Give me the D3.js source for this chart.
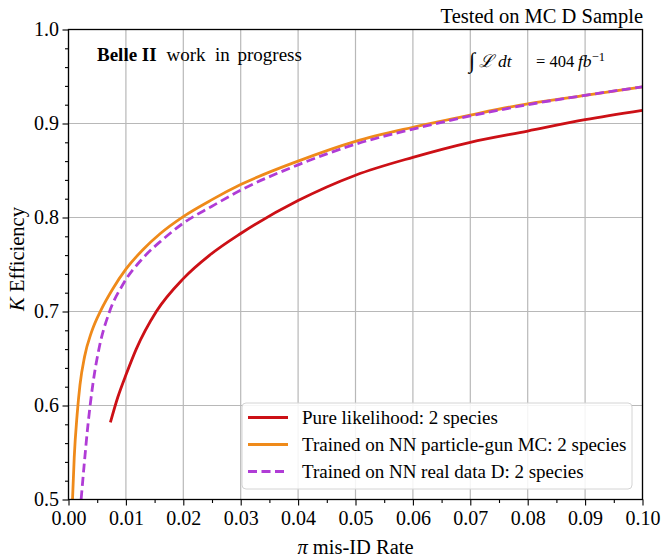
<!DOCTYPE html>
<html>
<head>
<meta charset="utf-8">
<script src="https://cdn.jsdelivr.net/npm/d3@7"></script>
<style>
    body { margin: 0; background: #fff; }
    svg text { font-family: "Liberation Serif", "Times New Roman", "DejaVu Serif", serif; fill: #000; }
</style>
</head>
<body>
<div id="chart"></div>
<script>
// DATA
// pi mis-ID rate (x) and K efficiency (y) for each classifier
var likelihoodRate = [0.0073, 0.0086, 0.0101, 0.0118, 0.0153, 0.0200, 0.0246, 0.0300, 0.0400, 0.0500, 0.0600, 0.0700, 0.0800, 0.0900, 0.1000];
var likelihoodEff  = [0.582, 0.609, 0.634, 0.660, 0.700, 0.735, 0.760, 0.783, 0.818, 0.845, 0.864, 0.880, 0.892, 0.904, 0.914];

var gunRate = [0.0007, 0.0010, 0.0015, 0.0020, 0.0028, 0.0040, 0.0057, 0.0077, 0.0100, 0.0130, 0.0160, 0.0200, 0.0250, 0.0300, 0.0400, 0.0500, 0.0600, 0.0700, 0.0800, 0.0900, 0.1000];
var gunEff  = [0.500, 0.545, 0.590, 0.622, 0.652, 0.678, 0.702, 0.724, 0.745, 0.766, 0.783, 0.801, 0.819, 0.835, 0.860, 0.881, 0.896, 0.909, 0.921, 0.930, 0.939];

var realRate = [0.0022, 0.0027, 0.0034, 0.0043, 0.0054, 0.0071, 0.0095, 0.0130, 0.0165, 0.0200, 0.0250, 0.0300, 0.0400, 0.0500, 0.0600, 0.0700, 0.0800, 0.0900, 0.1000];
var realEff  = [0.500, 0.535, 0.580, 0.625, 0.663, 0.699, 0.729, 0.757, 0.777, 0.794, 0.812, 0.829, 0.856, 0.878, 0.894, 0.908, 0.920, 0.930, 0.939];

var seriesNames = ["Pure likelihood: 2 species", "Trained on NN particle-gun MC: 2 species", "Trained on NN real data D: 2 species"];
var seriesColors = ["#cc1016", "#ef8a1a", "#b03cd6"];

// ticks
var xTicks = [0.00, 0.01, 0.02, 0.03, 0.04, 0.05, 0.06, 0.07, 0.08, 0.09, 0.10];
var xMinorTicks = [0.005, 0.015, 0.025, 0.035, 0.045, 0.055, 0.065, 0.075, 0.085, 0.095];
var yTicks = [0.5, 0.6, 0.7, 0.8, 0.9, 1.0];
var yMinorTicks = [0.52, 0.54, 0.56, 0.58, 0.62, 0.64, 0.66, 0.68, 0.72, 0.74, 0.76, 0.78, 0.82, 0.84, 0.86, 0.88, 0.92, 0.94, 0.96, 0.98];

// SIZES
var svgWidth = 663;
var svgHeight = 558;
var margin = { top: 29.5, right: 20.5, bottom: 58.5, left: 68.5 };
var width = svgWidth - margin.left - margin.right;
var height = svgHeight - margin.top - margin.bottom;

var svg = d3.select("#chart")
    .append("svg")
    .attr("width", svgWidth)
    .attr("height", svgHeight);

var chartGroup = svg.append("g")
    .attr("transform", `translate(${margin.left}, ${margin.top})`);

// scales
var xScale = d3.scaleLinear().domain([0, 0.1]).range([0, width]);
var yScale = d3.scaleLinear().domain([0.5, 1.0]).range([height, 0]);

// grid
chartGroup.append("g")
    .selectAll("line")
    .data(xTicks)
    .enter()
    .append("line")
    .attr("x1", d => xScale(d))
    .attr("x2", d => xScale(d))
    .attr("y1", 0)
    .attr("y2", height)
    .attr("stroke", "#b8b8b8")
    .attr("stroke-width", 1.2);

chartGroup.append("g")
    .selectAll("line")
    .data(yTicks)
    .enter()
    .append("line")
    .attr("x1", 0)
    .attr("x2", width)
    .attr("y1", d => yScale(d))
    .attr("y2", d => yScale(d))
    .attr("stroke", "#b8b8b8")
    .attr("stroke-width", 1.2);

// curves, clipped to the axes box
chartGroup.append("clipPath")
    .attr("id", "plotClip")
    .append("rect")
    .attr("width", width)
    .attr("height", height);

var lineGen = d3.line()
    .x(d => xScale(d[0]))
    .y(d => yScale(d[1]))
    .curve(d3.curveMonotoneX);

var series = [
    d3.zip(likelihoodRate, likelihoodEff),
    d3.zip(gunRate, gunEff),
    d3.zip(realRate, realEff)
];
var dashes = [null, null, "9,4.5"];

var curves = chartGroup.append("g").attr("clip-path", "url(#plotClip)");
series.forEach(function (pts, i) {
    curves.append("path")
        .datum(pts)
        .attr("d", lineGen)
        .attr("fill", "none")
        .attr("stroke", seriesColors[i])
        .attr("stroke-width", 2.8)
        .attr("stroke-dasharray", dashes[i]);
});

// axes
chartGroup.append("g")
    .attr("transform", `translate(0, ${height})`)
    .call(d3.axisBottom(xScale).tickValues(xTicks).tickFormat(d3.format(".2f")).tickSize(6).tickPadding(5));
chartGroup.append("g")
    .attr("transform", `translate(0, ${height})`)
    .call(d3.axisBottom(xScale).tickValues(xMinorTicks).tickFormat("").tickSize(3.5));

chartGroup.append("g")
    .call(d3.axisLeft(yScale).tickValues(yTicks).tickFormat(d3.format(".1f")).tickSize(6).tickPadding(3.5));
chartGroup.append("g")
    .call(d3.axisLeft(yScale).tickValues(yMinorTicks).tickFormat("").tickSize(3.5));

chartGroup.selectAll(".domain").remove();
chartGroup.selectAll(".tick line").attr("stroke", "#000").attr("stroke-width", 1.1);
chartGroup.selectAll(".tick text")
    .style("font-family", "'Liberation Serif', serif")
    .attr("font-size", 20)
    .attr("fill", "#000");

// frame
chartGroup.append("rect")
    .attr("width", width)
    .attr("height", height)
    .attr("fill", "none")
    .attr("stroke", "#000")
    .attr("stroke-width", 1.3);

// axis labels
var yLabel = chartGroup.append("text")
    .attr("transform", "rotate(-90)")
    .attr("x", -(259 - margin.top))
    .attr("y", 24 - margin.left)
    .attr("text-anchor", "middle")
    .attr("font-size", 20.5);
yLabel.append("tspan").attr("font-style", "italic").text("K");
yLabel.append("tspan").text(" Efficiency");

var xLabel = chartGroup.append("text")
    .attr("x", width / 2)
    .attr("y", height + 54.5)
    .attr("text-anchor", "middle")
    .attr("font-size", 20.5);
xLabel.append("tspan").attr("font-style", "italic").text("π");
xLabel.append("tspan").text(" mis-ID Rate");

// title and annotations
svg.append("text")
    .attr("x", 643)
    .attr("y", 23)
    .attr("text-anchor", "end")
    .attr("font-size", 20.5)
    .text("Tested on MC D Sample");

var belle = svg.append("text")
    .attr("x", 97)
    .attr("y", 61)
    .attr("font-size", 19);
belle.append("tspan").attr("font-weight", "bold").text("Belle II");
belle.append("tspan").attr("x", 166.5).text("work");
belle.append("tspan").attr("x", 215).text("in");
belle.append("tspan").attr("x", 237.5).text("progress");

var lumi = svg.append("text")
    .attr("x", 469)
    .attr("y", 67)
    .attr("font-size", 17.5);
lumi.append("tspan").attr("font-size", 22).attr("dy", 1).text("∫");
lumi.append("tspan").attr("x", 479).attr("dy", -1).attr("font-style", "italic").text("ℒ");
lumi.append("tspan").attr("x", 498).attr("font-style", "italic").text("dt");
lumi.append("tspan").attr("x", 536).attr("font-size", 16.5).text("= 404");
lumi.append("tspan").attr("x", 578).attr("font-style", "italic").text("fb");
lumi.append("tspan").attr("dy", -6.5).attr("font-size", 12.5).text("−1");

// legend
var legendW = 390;
var legendH = 86;
var legend = chartGroup.append("g")
    .attr("transform", `translate(${width - 10.5 - legendW}, ${height - 10.5 - legendH})`);

legend.append("rect")
    .attr("width", legendW)
    .attr("height", legendH)
    .attr("rx", 4)
    .attr("fill", "#fff")
    .attr("fill-opacity", 0.85)
    .attr("stroke", "#d4d4d4")
    .attr("stroke-width", 1);

seriesNames.forEach(function (name, i) {
    var rowY = 14.5 + i * 27;
    legend.append("line")
        .attr("x1", 6)
        .attr("x2", 46)
        .attr("y1", rowY)
        .attr("y2", rowY)
        .attr("stroke", seriesColors[i])
        .attr("stroke-width", 2.8)
        .attr("stroke-dasharray", dashes[i]);
    legend.append("text")
        .attr("x", 60)
        .attr("y", rowY + 6.3)
        .attr("font-size", 19)
        .text(name);
});
</script>
</body>
</html>
